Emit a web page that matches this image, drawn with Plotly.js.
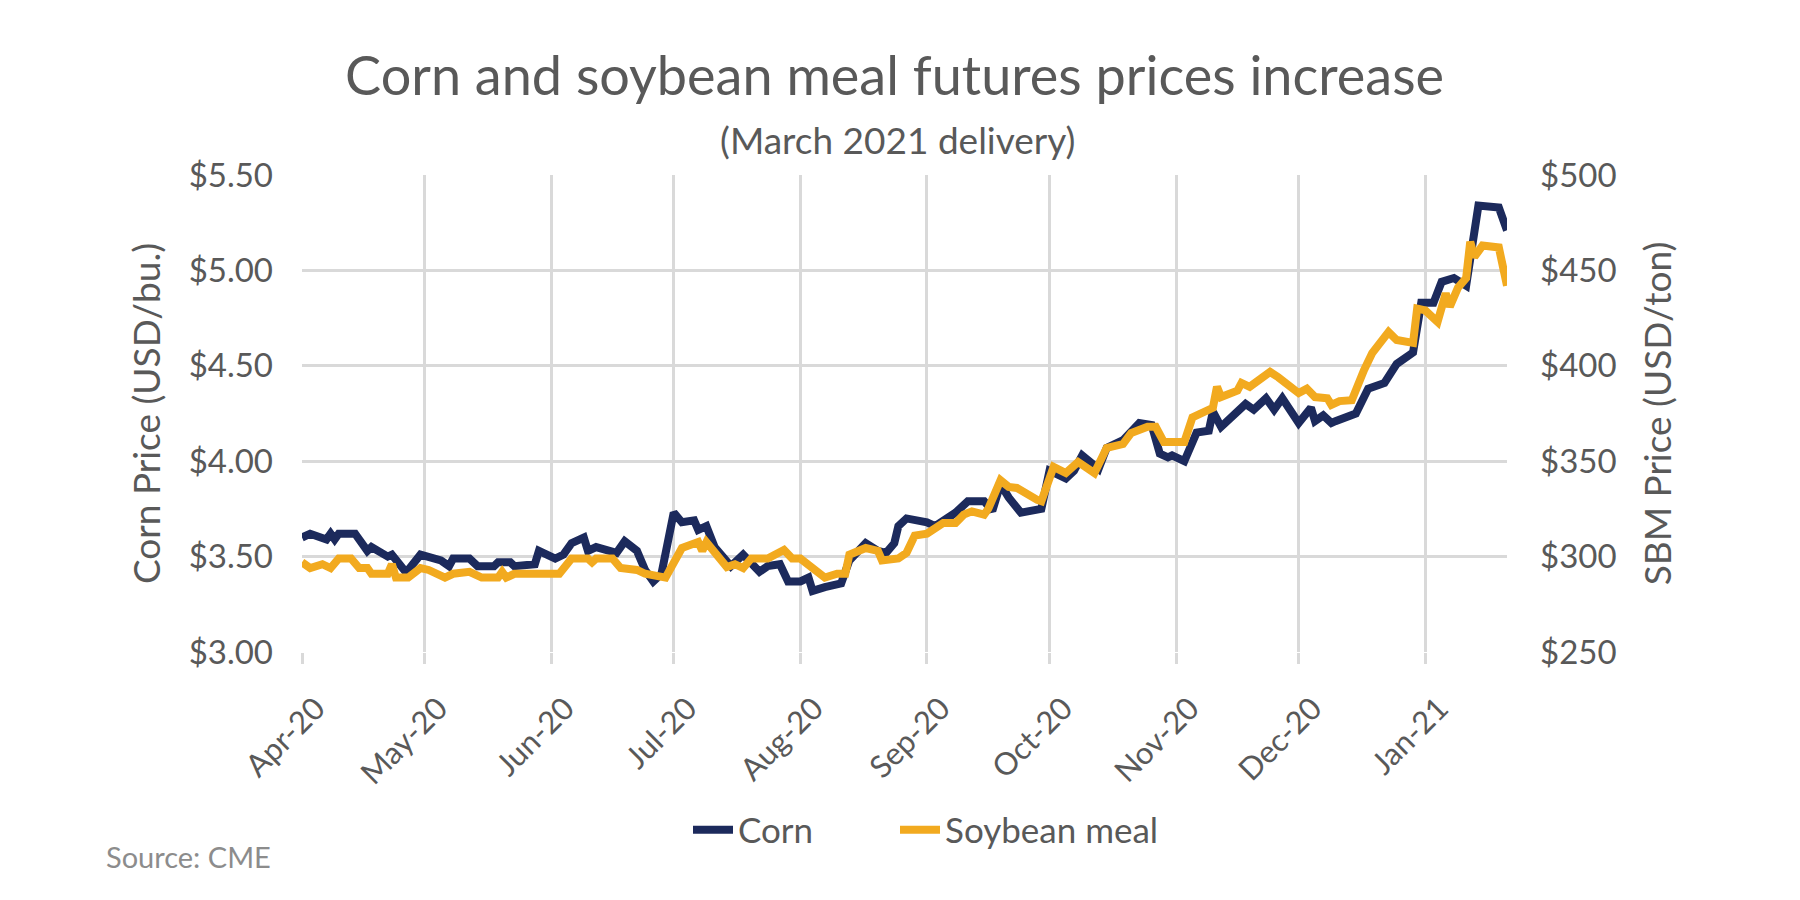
<!DOCTYPE html>
<html>
<head>
<meta charset="utf-8">
<script src="https://cdn.plot.ly/plotly-3.0.1.min.js"></script>
<style>
html,body{margin:0;padding:0;background:#fff;}
#chart{width:1800px;height:900px;}
</style>
</head>
<body>
<div id="chart"></div>
<script>
// ---- Data ----
const cornDates = [
 '2020-04-01','2020-04-03','2020-04-07','2020-04-08','2020-04-09','2020-04-10','2020-04-14','2020-04-17','2020-04-18','2020-04-22',
 '2020-04-23','2020-04-26','2020-04-27','2020-04-30','2020-05-05','2020-05-07','2020-05-08','2020-05-12','2020-05-14','2020-05-18',
 '2020-05-19','2020-05-22','2020-05-23','2020-05-28','2020-05-29','2020-06-02','2020-06-04','2020-06-06','2020-06-09','2020-06-10',
 '2020-06-12','2020-06-17','2020-06-19','2020-06-22','2020-06-24','2020-06-26','2020-06-28','2020-07-01','2020-07-03','2020-07-06',
 '2020-07-07','2020-07-09','2020-07-11','2020-07-15','2020-07-18','2020-07-22','2020-07-24','2020-07-27','2020-07-29','2020-08-01',
 '2020-08-03','2020-08-04','2020-08-07','2020-08-11','2020-08-13','2020-08-17','2020-08-20','2020-08-22','2020-08-24','2020-08-25',
 '2020-08-27','2020-09-01','2020-09-03','2020-09-08','2020-09-11','2020-09-15','2020-09-17','2020-09-19','2020-09-21','2020-09-24',
 '2020-09-29','2020-10-01','2020-10-05','2020-10-07','2020-10-09','2020-10-13','2020-10-15','2020-10-19','2020-10-23','2020-10-26',
 '2020-10-28','2020-10-30','2020-10-31','2020-11-03','2020-11-06','2020-11-09','2020-11-10','2020-11-12','2020-11-18','2020-11-20',
 '2020-11-23','2020-11-25','2020-11-27','2020-12-01','2020-12-04','2020-12-05','2020-12-07','2020-12-09','2020-12-10','2020-12-15',
 '2020-12-18','2020-12-22','2020-12-25','2020-12-29','2020-12-31','2021-01-03','2021-01-05','2021-01-08','2021-01-11','2021-01-14',
 '2021-01-19','2021-01-21'
];
const cornPrice = [
 3.60,3.62,3.59,3.62,3.59,3.62,3.62,3.53,3.55,3.50,
 3.51,3.43,3.43,3.51,3.48,3.45,3.49,3.49,3.45,3.45,
 3.47,3.47,3.45,3.46,3.53,3.49,3.51,3.57,3.60,3.53,
 3.55,3.52,3.58,3.53,3.43,3.37,3.41,3.73,3.68,3.69,
 3.64,3.66,3.55,3.45,3.51,3.42,3.45,3.46,3.37,3.37,
 3.39,3.32,3.34,3.36,3.48,3.57,3.53,3.52,3.57,3.66,
 3.70,3.68,3.66,3.73,3.79,3.79,3.74,3.88,3.81,3.73,
 3.75,3.95,3.91,3.95,4.03,3.96,4.07,4.11,4.20,4.19,
 4.04,4.02,4.03,4.00,4.15,4.16,4.26,4.18,4.30,4.27,
 4.33,4.27,4.33,4.20,4.28,4.21,4.24,4.20,4.21,4.25,
 4.38,4.41,4.51,4.57,4.83,4.83,4.94,4.96,4.92,5.34,
 5.33,5.21
];
const sbmDates = [
 '2020-04-01','2020-04-03','2020-04-06','2020-04-08','2020-04-10','2020-04-13','2020-04-15','2020-04-17','2020-04-18','2020-04-22',
 '2020-04-23','2020-04-24','2020-04-27','2020-04-30','2020-05-02','2020-05-06','2020-05-08','2020-05-12','2020-05-15','2020-05-19',
 '2020-05-20','2020-05-21','2020-05-23','2020-06-03','2020-06-06','2020-06-10','2020-06-11','2020-06-12','2020-06-16','2020-06-18',
 '2020-06-22','2020-06-24','2020-06-29','2020-07-02','2020-07-03','2020-07-07','2020-07-08','2020-07-09','2020-07-14','2020-07-16',
 '2020-07-18','2020-07-20','2020-07-24','2020-07-28','2020-07-30','2020-08-01','2020-08-04','2020-08-07','2020-08-10','2020-08-12',
 '2020-08-13','2020-08-17','2020-08-20','2020-08-21','2020-08-25','2020-08-27','2020-08-29','2020-09-01','2020-09-05','2020-09-08',
 '2020-09-10','2020-09-12','2020-09-15','2020-09-16','2020-09-19','2020-09-21','2020-09-23','2020-09-25','2020-09-28','2020-09-29',
 '2020-10-02','2020-10-05','2020-10-08','2020-10-12','2020-10-15','2020-10-19','2020-10-21','2020-10-25','2020-10-27','2020-10-29',
 '2020-11-03','2020-11-05','2020-11-10','2020-11-11','2020-11-12','2020-11-16','2020-11-17','2020-11-19','2020-11-24','2020-11-26',
 '2020-12-01','2020-12-03','2020-12-05','2020-12-08','2020-12-09','2020-12-11','2020-12-14','2020-12-17','2020-12-19','2020-12-23',
 '2020-12-25','2020-12-29','2020-12-30','2021-01-01','2021-01-04','2021-01-06','2021-01-07','2021-01-09','2021-01-11','2021-01-12',
 '2021-01-13','2021-01-15','2021-01-19','2021-01-21'
];
const sbmPrice = [
 297,294,296,294,299,299,294,294,291,291,
 296,289,289,294,293,289,291,292,289,289,
 292,289,291,291,299,299,297,299,299,294,
 293,291,289,301,304.5,307.6,303,307.6,294.5,296,
 294,299,299,303.5,299,299,294,289,291,291,
 301,304.5,303,298,299,302,311,312,317.6,317.6,
 322,323.7,322,325,340,336.5,336,333,329.7,329,
 347,343.8,349.6,343.8,357,359,364.8,368,368,360,
 360,373,378,389,383.6,387,391,389,396.8,394,
 385.7,388,383.6,383,379.5,381.5,382,397.8,406.7,417.7,
 413.5,412,430,429,423,438,431,441,446,465,
 457,463,462,442
];
const seriesNames = ['Corn','Soybean meal'];
const titleText = 'Corn and soybean meal futures prices increase';
const subtitleText = '(March 2021 delivery)';
const sourceText = 'Source: CME';
const leftAxisTitle = 'Corn Price (USD/bu.)';
const rightAxisTitle = 'SBM Price (USD/ton)';

// ---- Styles ----
const FONT = 'Lato, "Open Sans", sans-serif';
const TXT = '#595959';
const GRID = '#d9d9d9';
const CORN = '#1c2a5c';
const SBM = '#f2aa1f';

// plot area in pixels (for placing paper-referenced text)
const PL = 302, PR = 1507, PT = 175, PB = 652;
const px2x = p => (p - PL) / (PR - PL);
const py2y = p => (PB - p) / (PB - PT);

const traces = [
  {x: cornDates, y: cornPrice, name: seriesNames[0], type: 'scatter', mode: 'lines',
   line: {color: CORN, width: 8}, yaxis: 'y', legend: 'legend'},
  {x: sbmDates, y: sbmPrice, name: seriesNames[1], type: 'scatter', mode: 'lines',
   line: {color: SBM, width: 8}, yaxis: 'y2', legend: 'legend2'}
];

const legendStyle = (xpx) => ({
  orientation: 'h', x: px2x(xpx), xanchor: 'left', y: py2y(830), yanchor: 'middle',
  font: {size: 35, color: TXT}, itemwidth: 40, bgcolor: 'rgba(0,0,0,0)'
});

const layout = {
  width: 1800, height: 900,
  paper_bgcolor: '#fff', plot_bgcolor: '#fff',
  margin: {l: PL, r: 1800 - PR, t: PT, b: 900 - PB},
  font: {family: FONT, color: TXT},
  title: {text: titleText, font: {size: 54, color: TXT, family: FONT},
          xref: 'container', yref: 'container',
          x: 0.497, xanchor: 'center', y: 1 - 76/900, yanchor: 'middle'},
  xaxis: {
    type: 'date', range: ['2020-04-01', '2021-01-21'],
    tick0: '2020-04-01', dtick: 'M1', tickformat: '%b-%y', tickangle: -45,
    showgrid: true, gridcolor: GRID, gridwidth: 3,
    ticks: 'outside', ticklen: 11, tickwidth: 3, tickcolor: GRID,
    ticklabelstandoff: 14, ticklabelshift: 14,
    showline: false, zeroline: false,
    tickfont: {size: 31, color: TXT}
  },
  yaxis: {
    range: [3, 5.5], dtick: 0.5, tick0: 3, tickprefix: '$', tickformat: '.2f',
    showgrid: true, gridcolor: GRID, gridwidth: 3, zeroline: false, showline: false,
    ticks: '', ticklabelstandoff: 28,
    tickfont: {size: 33, color: TXT},
    title: {text: leftAxisTitle, font: {size: 37, color: TXT}, standoff: 16}
  },
  yaxis2: {
    range: [250, 500], dtick: 50, tick0: 250, tickprefix: '$', tickformat: 'd',
    overlaying: 'y', side: 'right', showgrid: false, zeroline: false, showline: false,
    ticks: '', ticklabelstandoff: 32,
    tickfont: {size: 33, color: TXT},
    title: {text: rightAxisTitle, font: {size: 37, color: TXT}, standoff: 29}
  },
  showlegend: true,
  legend: legendStyle(688),
  legend2: legendStyle(895),
  annotations: [
    {text: subtitleText, xref: 'paper', yref: 'paper', x: px2x(897), y: py2y(139),
     xanchor: 'center', yanchor: 'middle', showarrow: false, font: {size: 37, color: TXT}},
    {text: sourceText, xref: 'paper', yref: 'paper', x: px2x(104), y: py2y(856),
     xanchor: 'left', yanchor: 'middle', showarrow: false, font: {size: 29, color: '#8c8c8c'}}
  ]
};

Plotly.newPlot('chart', traces, layout, {displayModeBar: false, staticPlot: true});
</script>
</body>
</html>
